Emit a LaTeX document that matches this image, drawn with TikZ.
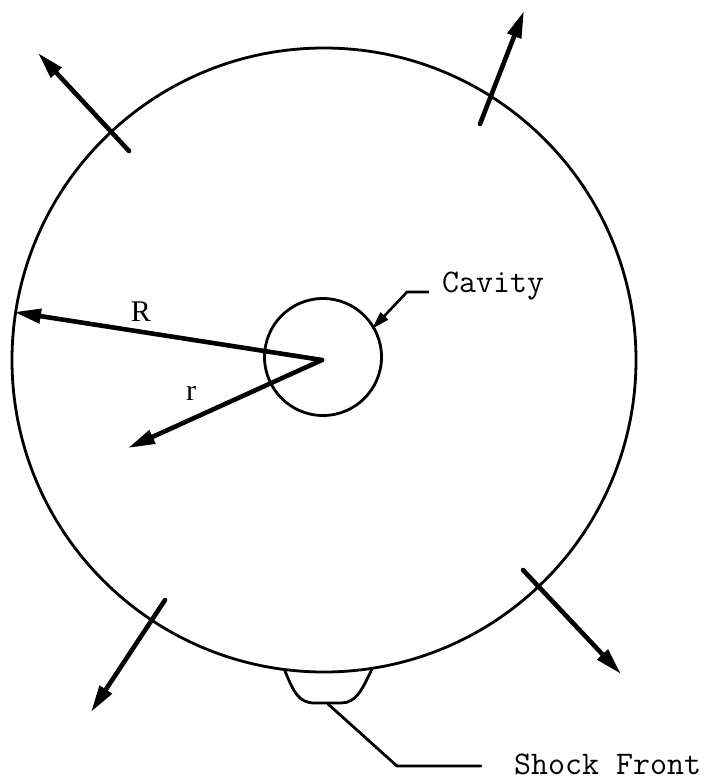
\documentclass[tikz,border=0pt]{standalone}
\usepackage{fontspec}
\setmainfont{Liberation Serif}
\usetikzlibrary{arrows.meta}
\tikzset{
  thinline/.style={line width=2.8pt, line cap=round, line join=round},
  vecarrow/.style={line width=4.6pt, line cap=round, -{Triangle[length=27pt,width=14pt]}},
  leaderarrow/.style={line width=2.6pt, -{Triangle[length=18pt,width=10pt]}},
  monolabel/.style={font=\ttfamily\fontsize{33}{36}\selectfont, inner sep=0pt},
  serlabel/.style={font=\fontsize{30}{32}\selectfont, inner sep=0pt}
}
\begin{document}
\begin{tikzpicture}[x=1pt,y=-1pt]
\useasboundingbox[fill=white] (0,0) rectangle (713,780);
% shell and cavity
\node[draw, thinline, circle, minimum size=624pt, inner sep=0pt] (shell) at (324,360) {};
\node[draw, thinline, circle, minimum size=117pt, inner sep=0pt] (cav) at (323,357) {};
\coordinate (ctr) at (322,360);
% radius arrows
\coordinate (Rtip) at (14,312);
\coordinate (rtip) at (128,448);
\draw[vecarrow] (ctr) -- (Rtip);
\draw[vecarrow] (ctr) -- (rtip);
\node[serlabel] (Rlab) at (141,312) {R};
\node[serlabel] (rlab) at (191,393) {r};
% outward arrows
\coordinate (a1s) at (129,151); \coordinate (a1e) at (38,53);
\coordinate (a2s) at (480,124); \coordinate (a2e) at (524,11);
\coordinate (a3s) at (165,600); \coordinate (a3e) at (91,712);
\coordinate (a4s) at (523,570); \coordinate (a4e) at (621,674);
\draw[vecarrow] (a1s) -- (a1e);
\draw[vecarrow] (a2s) -- (a2e);
\draw[vecarrow] (a3s) -- (a3e);
\draw[vecarrow] (a4s) -- (a4e);
% cavity label
\node[monolabel, anchor=base west] (cavlab) at (442,292) {Cavity};
\coordinate (cl1) at (429,292);
\coordinate (cl2) at (407,292);
\coordinate (cltip) at (372,329);
\draw[leaderarrow] (cl1) -- (cl2) -- (cltip);
% shock front bump
\coordinate (sf1) at (285,671);
\coordinate (sf2) at (372,669);
\draw[thinline] (sf1) .. controls (294,693) and (299,703) .. (315,703) -- (341,703) .. controls (356,703) and (362,690) .. (sf2);
\coordinate (sl1) at (328,704);
\coordinate (sl2) at (397,766);
\coordinate (sl3) at (481,766);
\draw[thinline] (sl1) -- (sl2) -- (sl3);
\node[monolabel, anchor=base west] (sflab) at (514,774) {Shock Front};
\end{tikzpicture}
\end{document}
